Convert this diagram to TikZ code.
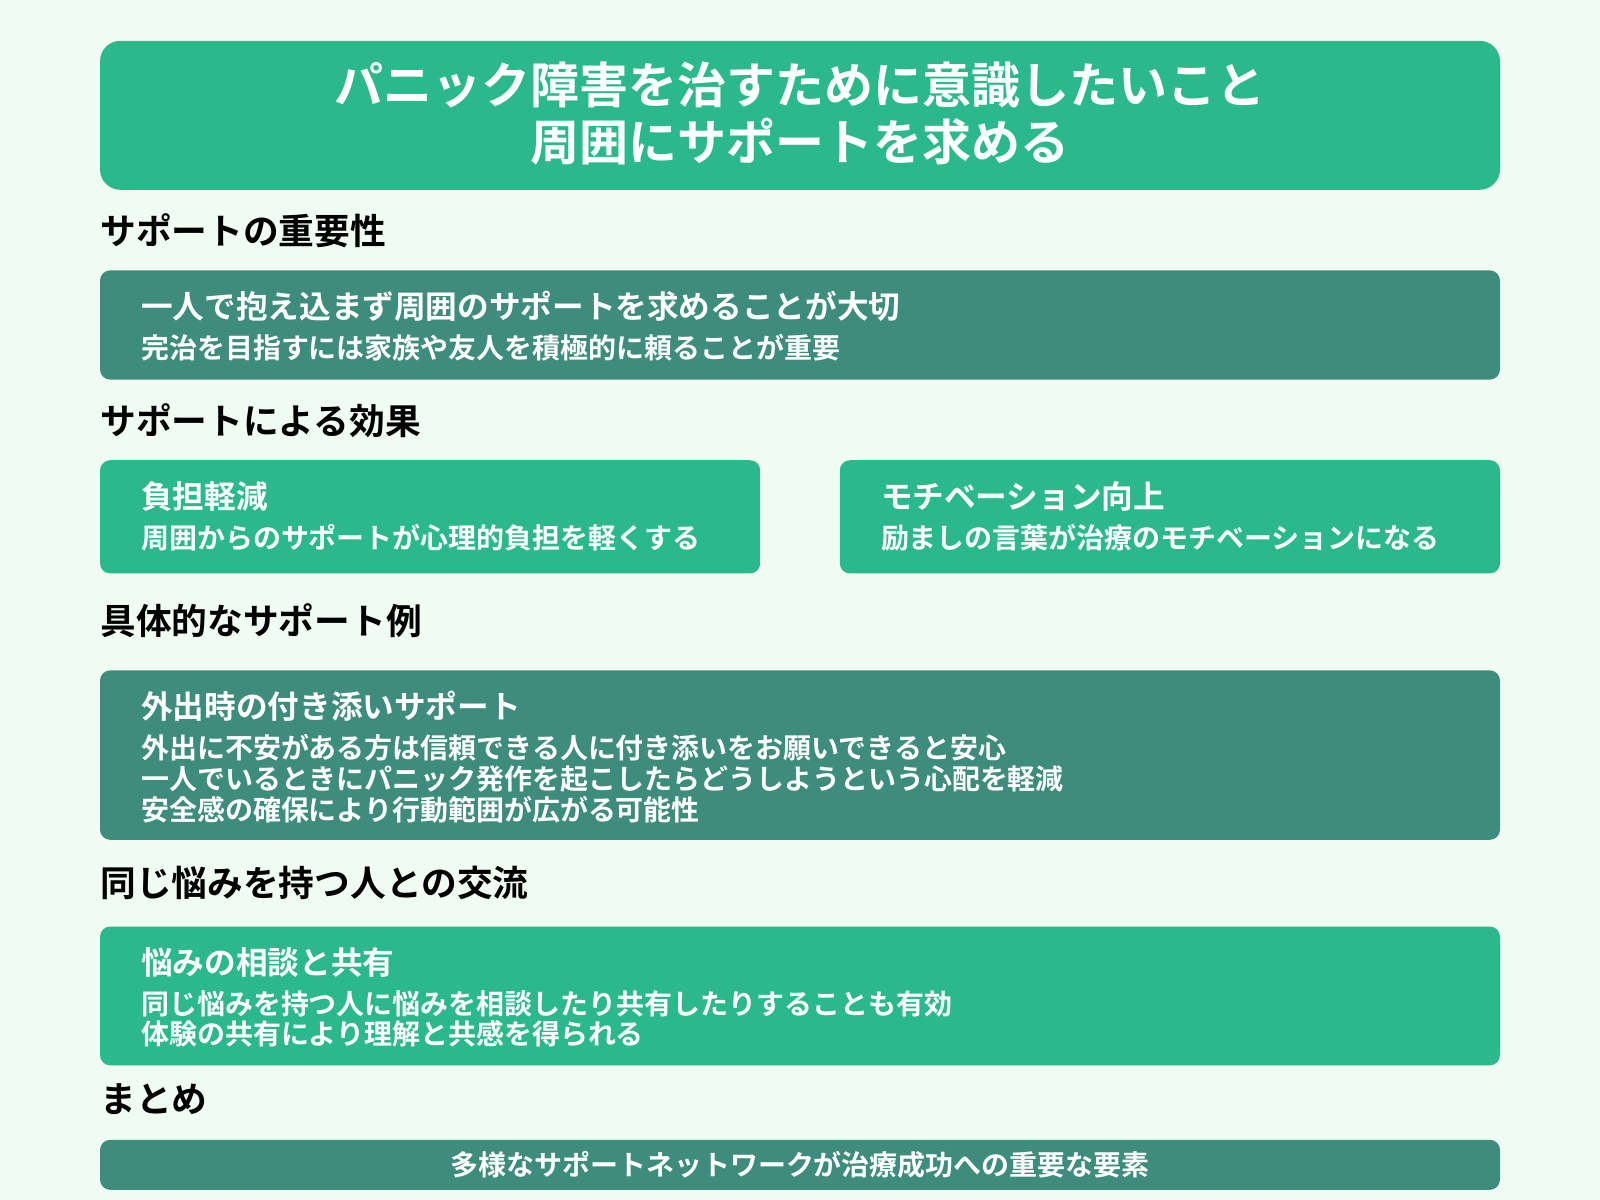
\documentclass[tikz,border=0pt]{standalone}
\usepackage{fontspec}
\setmainfont{Noto Sans CJK JP}[BoldFont={Noto Sans CJK JP Bold}]
\definecolor{bg}{HTML}{F0FCF3}
\definecolor{lg}{HTML}{2BB98C}
\definecolor{dg}{HTML}{3D8C7C}
\begin{document}
\begin{tikzpicture}[x=0.5pt,y=-0.5pt,
  lbox/.style={fill=lg,rounded corners=5pt},
  dbox/.style={fill=dg,rounded corners=5pt},
  head/.style={anchor=west,inner sep=0,font=\bfseries\fontsize{17.5}{20}\selectfont,text=black},
  mainl/.style={anchor=west,inner sep=0,font=\bfseries\fontsize{15.5}{18}\selectfont,text=white},
  subl/.style={anchor=west,inner sep=0,font=\bfseries\fontsize{13.7}{15}\selectfont,text=white}]
\fill[bg] (0,0) rectangle (1568,1176);
\useasboundingbox (0,0) rectangle (1568,1176);
\fill[lbox,rounded corners=10pt] (98,40) rectangle (1470,186);
\node[align=center,text=white,font=\bfseries\fontsize{24}{28}\selectfont,inner sep=0] (title) at (784,111) {パニック障害を治すために意識したいこと\\周囲にサポートを求める};
\node[head] (h1) at (98,226) {サポートの重要性};
\fill[dbox] (98,265) rectangle (1470,372);
\node[mainl] (m1) at (138,300) {一人で抱え込まず周囲のサポートを求めることが大切};
\node[subl] (s1) at (138,341) {完治を目指すには家族や友人を積極的に頼ることが重要};
\node[head] (h2) at (98,412) {サポートによる効果};
\fill[lbox] (98,451) rectangle (745,562);
\fill[lbox] (823,451) rectangle (1470,562);
\node[mainl] (m2a) at (138,487) {負担軽減};
\node[subl] (s2a) at (138,527) {周囲からのサポートが心理的負担を軽くする};
\node[mainl] (m2b) at (863,487) {モチベーション向上};
\node[subl] (s2b) at (863,527) {励ましの言葉が治療のモチベーションになる};
\node[head] (h3) at (98,608) {具体的なサポート例};
\fill[dbox] (98,657) rectangle (1470,823);
\node[mainl] (m3) at (138,692) {外出時の付き添いサポート};
\node[subl] (s3a) at (138,733) {外出に不安がある方は信頼できる人に付き添いをお願いできると安心};
\node[subl] (s3b) at (138,763) {一人でいるときにパニック発作を起こしたらどうしようという心配を軽減};
\node[subl] (s3c) at (138,794) {安全感の確保により行動範囲が広がる可能性};
\node[head] (h4) at (98,865) {同じ悩みを持つ人との交流};
\fill[lbox] (98,908) rectangle (1470,1044);
\node[mainl] (m4) at (138,943) {悩みの相談と共有};
\node[subl] (s4a) at (138,984) {同じ悩みを持つ人に悩みを相談したり共有したりすることも有効};
\node[subl] (s4b) at (138,1013) {体験の共有により理解と共感を得られる};
\node[head] (h5) at (98,1077) {まとめ};
\fill[dbox] (98,1117) rectangle (1470,1166);
\node[subl,anchor=center] (s5) at (784,1142) {多様なサポートネットワークが治療成功への重要な要素};
\end{tikzpicture}
\end{document}
